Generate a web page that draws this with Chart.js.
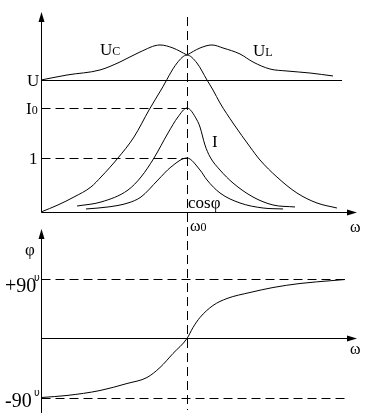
<!DOCTYPE html>
<html lang="ru">
<head>
<meta charset="UTF-8">
<title>Резонанс напряжений</title>
<script src="https://cdn.jsdelivr.net/npm/chart.js"></script>
<style>
  body { margin: 0; background: #fff; }
  canvas { display: block; }
</style>
</head>
<body>
<canvas id="resonance" width="369" height="418"></canvas>
<script>
// omega is in units of omega0, magnitudes in units of cos(phi) = 1
const omegaUc = [0, 0.178, 0.404, 0.541, 0.678, 0.815, 0.904, 1.0];
const valUc   = [2.444, 2.537, 2.630, 2.778, 2.963, 3.093, 3.037, 2.907];

const omegaUl = [1.0, 1.089, 1.171, 1.247, 1.363, 1.452, 1.568, 1.685, 1.842, 2.0];
const valUl   = [2.907, 3.037, 3.093, 3.037, 2.926, 2.778, 2.648, 2.611, 2.574, 2.519];

const omegaZ = [0, 0.116, 0.226, 0.342, 0.411, 0.527, 0.637, 0.740, 0.822, 0.932, 1.0,
                1.068, 1.137, 1.178, 1.226, 1.315, 1.432, 1.500, 1.616, 1.753, 1.890, 2.027];
const valZ   = [0, 0.130, 0.278, 0.463, 0.648, 1.0, 1.389, 1.889, 2.259, 2.759, 2.907,
                2.759, 2.444, 2.259, 2.019, 1.648, 1.204, 0.963, 0.648, 0.352, 0.167, 0.074];

const omegaI = [0.247, 0.411, 0.596, 0.685, 0.774, 0.870, 0.938, 1.0, 1.068, 1.089,
                1.123, 1.158, 1.226, 1.315, 1.452, 1.589, 1.740];
const valI   = [0.111, 0.185, 0.407, 0.648, 1.0, 1.463, 1.759, 1.926, 1.704, 1.574,
                1.241, 1.019, 0.778, 0.537, 0.278, 0.130, 0.093];

const omegaCos = [0.308, 0.459, 0.596, 0.685, 0.801, 0.890, 1.0, 1.089, 1.137, 1.226, 1.363, 1.521, 1.658];
const valCos   = [0.056, 0.093, 0.167, 0.278, 0.593, 0.833, 1.0, 0.778, 0.593, 0.352, 0.167, 0.074, 0.056];

const omegaPhi = [0.007, 0.178, 0.404, 0.589, 0.726, 0.815, 0.904, 1.0, 1.041, 1.089,
                  1.178, 1.274, 1.432, 1.589, 1.774, 2.0, 2.082];
const valPhi   = [-89.2, -86.2, -78.7, -68.1, -59.0, -43.9, -22.7, 0, 16.6, 31.8,
                  49.9, 60.5, 69.6, 77.1, 83.2, 87.7, 89.2];

// levels on the left axis
const levelText   = ['U', 'I', '1'];
const levelSub    = ['', '0', ''];
const levelValues = [2.444, 1.926, 1.0];
const phiText   = ['+90', '-90'];
const phiValues = [90, -90];

const FONT = '"Liberation Serif", "DejaVu Serif", serif';

function pts(xs, ys) {
  return xs.map((v, i) => ({ x: v, y: ys[i] }));
}

function line(ds, xs, ys, axis) {
  return {
    data: pts(xs, ys),
    yAxisID: axis,
    showLine: true,
    borderColor: '#000',
    borderWidth: 1,
    pointRadius: 0,
    cubicInterpolationMode: 'monotone',
    clip: false,
    label: ds
  };
}

function label(ctx, x, y, main, sub, size, subSize) {
  ctx.font = size + 'px ' + FONT;
  ctx.fillText(main, x, y);
  if (sub) {
    let w = ctx.measureText(main).width;
    ctx.font = subSize + 'px ' + FONT;
    ctx.fillText(sub, x + w, y);
  }
}

const sketch = {
  id: 'sketch',
  afterDatasetsDraw(chart) {
    const ctx = chart.ctx;
    const sx = chart.scales.x, sy = chart.scales.y, sp = chart.scales.phi;
    const r = v => Math.round(v) + 0.5;
    const x0 = r(sx.getPixelForValue(0));
    const xEnd = sx.getPixelForValue(sx.max);
    const xRes = r(sx.getPixelForValue(1));
    const yBase = r(sy.getPixelForValue(0));
    const yPhi0 = r(sp.getPixelForValue(0));

    ctx.save();
    ctx.strokeStyle = '#000';
    ctx.fillStyle = '#000';
    ctx.lineWidth = 1;

    function seg(xa, ya, xb, yb, dash) {
      ctx.setLineDash(dash || []);
      ctx.beginPath();
      ctx.moveTo(xa, ya);
      ctx.lineTo(xb, yb);
      ctx.stroke();
    }
    function arrow(tx, ty, up) {
      ctx.beginPath();
      if (up) {
        ctx.moveTo(tx, ty);
        ctx.lineTo(tx - 3, ty + 10);
        ctx.lineTo(tx + 3, ty + 10);
      } else {
        ctx.moveTo(tx, ty);
        ctx.lineTo(tx - 10, ty - 3);
        ctx.lineTo(tx - 10, ty + 3);
      }
      ctx.closePath();
      ctx.fill();
    }

    // top panel axes
    seg(x0, yBase, x0, sy.top + 4);
    arrow(x0, sy.top, true);
    seg(x0, yBase, xEnd - 4, yBase);
    arrow(xEnd, yBase, false);

    // bottom panel axes
    seg(x0, 413, x0, 234);
    arrow(x0, 229, true);
    seg(x0, yPhi0, xEnd - 4, yPhi0);
    arrow(xEnd, yPhi0, false);

    // resonance line
    seg(xRes, 17, xRes, 410, [9, 5]);

    // levels
    levelValues.forEach((v, i) => {
      const yy = r(sy.getPixelForValue(v));
      if (i === 0) seg(x0, yy, sx.getPixelForValue(2.062), yy);
      else seg(x0, yy, xRes, yy, [9, 5]);
    });
    phiValues.forEach(v => {
      const yy = r(sp.getPixelForValue(v));
      seg(x0, yy, sx.getPixelForValue(2.082), yy, [9, 5]);
    });
    ctx.setLineDash([]);

    // text
    ctx.textAlign = 'left';
    ctx.textBaseline = 'alphabetic';
    const lx = [27, 26, 29];
    levelValues.forEach((v, i) => {
      const yy = sy.getPixelForValue(v) + 6;
      label(ctx, lx[i], yy, levelText[i], levelSub[i], 17, 12);
    });
    phiValues.forEach((v, i) => {
      const yy = sp.getPixelForValue(v) + (v > 0 ? 13 : 9);
      ctx.font = '20px ' + FONT;
      ctx.fillText(phiText[i], 5, yy);
      ctx.font = '10px "DejaVu Sans", sans-serif';
      ctx.fillText('υ', 34, yy - 11);
    });

    label(ctx, 100, 55, 'U', 'C', 17, 12);
    label(ctx, 253, 56, 'U', 'L', 17, 12);
    label(ctx, 212, 147, 'I', '', 17, 12);
    label(ctx, 188, 208, 'cosφ', '', 17, 12);
    label(ctx, 190, 231, 'ω', '0', 16, 12);
    label(ctx, 350, 232, 'ω', '', 16, 12);
    label(ctx, 350, 354, 'ω', '', 16, 12);
    label(ctx, 25, 255, 'φ', '', 17, 12);

    ctx.restore();
  }
};

new Chart(document.getElementById('resonance'), {
  type: 'scatter',
  data: {
    datasets: [
      line('UC', omegaUc, valUc, 'y'),
      line('UL', omegaUl, valUl, 'y'),
      line('Z', omegaZ, valZ, 'y'),
      line('I', omegaI, valI, 'y'),
      line('cos', omegaCos, valCos, 'y'),
      line('phi', omegaPhi, valPhi, 'phi')
    ]
  },
  options: {
    responsive: false,
    animation: false,
    devicePixelRatio: 1,
    layout: { padding: { left: 41, right: 12, top: 12, bottom: 6 } },
    plugins: { legend: { display: false }, tooltip: { enabled: false } },
    scales: {
      x: { type: 'linear', min: 0, max: 2.1644, display: false },
      y: { type: 'linear', min: -3.7037, max: 3.7037, display: false },
      phi: { type: 'linear', min: -111.2, max: 493.9, display: false }
    }
  },
  plugins: [sketch]
});
</script>
</body>
</html>
